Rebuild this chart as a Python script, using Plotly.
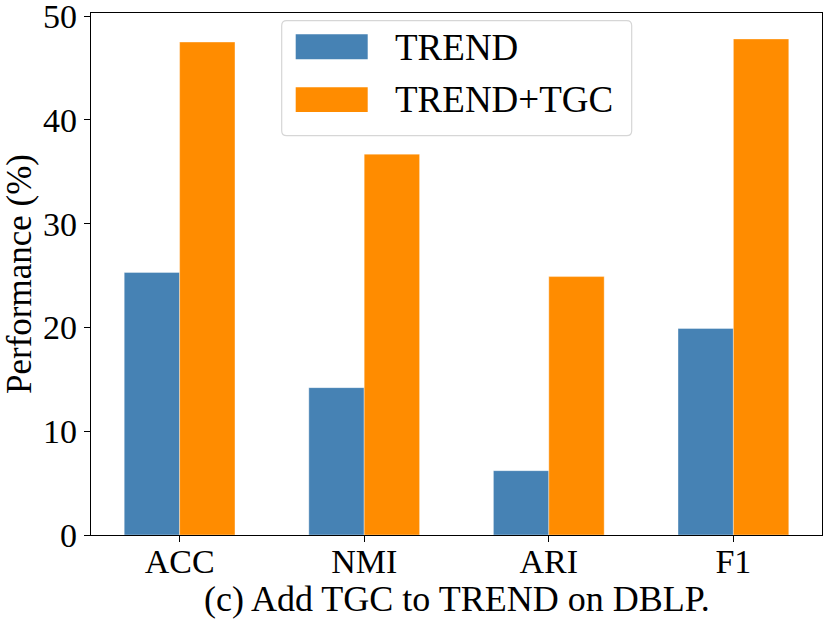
import plotly.graph_objects as go

# values
metrics = ["ACC", "NMI", "ARI", "F1"]
series_names = ["TREND", "TREND+TGC"]
trend = [25.3, 14.2, 6.2, 19.9]
trend_tgc = [47.5, 36.7, 24.9, 47.8]
y_ticks = [0, 10, 20, 30, 40, 50]

colors = ["#4682B4", "#FF8C00"]
font_family = "Liberation Serif, Times New Roman, serif"

W, H = 830, 623
L, R, T, B = 91, 8, 13, 88
plot_w = W - L - R
plot_h = H - T - B


def fx(px):
    return (px - L) / plot_w


def fy(py):
    return (H - B - py) / plot_h


fig = go.Figure()
for name, vals, col in zip(series_names, [trend, trend_tgc], colors):
    fig.add_trace(go.Bar(
        x = metrics,
        y = vals,
        name = name,
        marker = dict(color = col, line = dict(color = "rgba(255,255,255,0.6)", width = 0.6)),
        showlegend = False
    ))

# legend drawn by hand so the swatches can be wide like the original
def rounded_box(x0, y0, x1, y1, r):
    # pixel coords -> paper coords path with rounded corners
    pts = []
    pts.append("M %f,%f" % (fx(x0 + r), fy(y0)))
    pts.append("L %f,%f" % (fx(x1 - r), fy(y0)))
    pts.append("Q %f,%f %f,%f" % (fx(x1), fy(y0), fx(x1), fy(y0 + r)))
    pts.append("L %f,%f" % (fx(x1), fy(y1 - r)))
    pts.append("Q %f,%f %f,%f" % (fx(x1), fy(y1), fx(x1 - r), fy(y1)))
    pts.append("L %f,%f" % (fx(x0 + r), fy(y1)))
    pts.append("Q %f,%f %f,%f" % (fx(x0), fy(y1), fx(x0), fy(y1 - r)))
    pts.append("L %f,%f" % (fx(x0), fy(y0 + r)))
    pts.append("Q %f,%f %f,%f Z" % (fx(x0), fy(y0), fx(x0 + r), fy(y0)))
    return " ".join(pts)


shapes = [dict(
    type = "path", xref = "paper", yref = "paper",
    path = rounded_box(281.7, 20.7, 631.7, 135.7, 5),
    line = dict(color = "#d6d6d6", width = 1.2),
    fillcolor = "rgba(255,255,255,0.8)"
)]
annotations = []
swatch_rows = [(34.3, 59.3, 47), (87.3, 112, 100)]
for (sy0, sy1, ty), name, col in zip(swatch_rows, series_names, colors):
    shapes.append(dict(
        type = "rect", xref = "paper", yref = "paper",
        x0 = fx(295.7), x1 = fx(367.7), y0 = fy(sy1), y1 = fy(sy0),
        fillcolor = col, line = dict(width = 0)
    ))
    annotations.append(dict(
        xref = "paper", yref = "paper", x = fx(393), y = fy(ty),
        text = name, showarrow = False, xanchor = "left", yanchor = "middle",
        font = dict(family = font_family, size = 37, color = "black")
    ))

# caption under the x axis
annotations.append(dict(
    xref = "paper", yref = "paper", x = 0.5, y = fy(599),
    text = "(c) Add TGC to TREND on DBLP.", showarrow = False,
    xanchor = "center", yanchor = "middle",
    font = dict(family = font_family, size = 36, color = "black")
))

fig.update_layout(
    width = W, height = H,
    margin = dict(l = L, r = R, t = T, b = B, autoexpand = False),
    plot_bgcolor = "white",
    paper_bgcolor = "white",
    barmode = "group",
    bargap = 0.4,
    bargroupgap = 0,
    font = dict(family = font_family, size = 34, color = "black"),
    shapes = shapes,
    annotations = annotations
)

fig.update_xaxes(
    range = [-0.48, 3.48],
    automargin = False,
    showline = True, linecolor = "black", linewidth = 1.2, mirror = True,
    ticks = "outside", ticklen = 6, tickcolor = "black",
    ticklabelstandoff = -10,
    showgrid = False
)
fig.update_yaxes(
    range = [0, 50.3],
    tickvals = y_ticks,
    automargin = False,
    ticklabeloverflow = "allow",
    showline = True, linecolor = "black", linewidth = 1.2, mirror = True,
    ticks = "outside", ticklen = 6, tickcolor = "black",
    showgrid = False, zeroline = False,
    title = dict(text = "Performance (%)", font = dict(size = 35), standoff = 15)
)

# drop the page's default body margin so the figure sits at the window's corner
fig.write_html(
    "out.html",
    config = {"displayModeBar": False},
    post_script = "document.body.style.margin = '0';"
)
